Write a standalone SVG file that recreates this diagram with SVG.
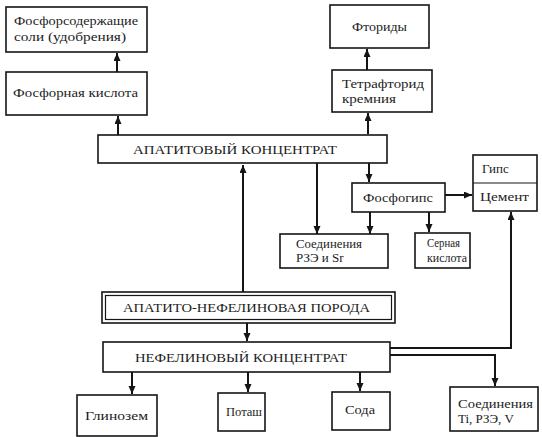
<svg xmlns="http://www.w3.org/2000/svg" width="542" height="437" viewBox="0 0 542 437">
<style>
.box{fill:#fff;stroke:#151515;stroke-width:1.6}
.t{font-family:"Liberation Serif","DejaVu Serif",serif;font-size:13px;fill:#1c1c1c}
.cap{font-family:"Liberation Serif","DejaVu Serif",serif;font-size:12px;fill:#1c1c1c}
.c{stroke:#151515;stroke-width:2;fill:none}
</style>
<defs>
<marker id="ar" markerUnits="userSpaceOnUse" markerWidth="9" markerHeight="8" refX="8" refY="3.5" orient="auto">
<path d="M0,0 L8,3.5 L0,7 z" fill="#151515"/>
</marker>
</defs>
<rect width="542" height="437" fill="#fff"/>

<g id="connectors">
<path class="c" d="M118,135 V116" marker-end="url(#ar)"/>
<path class="c" d="M117,72 V53" marker-end="url(#ar)"/>
<path class="c" d="M368,134 V113" marker-end="url(#ar)"/>
<path class="c" d="M367,70 V49" marker-end="url(#ar)"/>
<path class="c" d="M243,292 V165" marker-end="url(#ar)"/>
<path class="c" d="M247,323 V341" marker-end="url(#ar)"/>
<path class="c" d="M317,163 V234" marker-end="url(#ar)"/>
<path class="c" d="M369,163 V182" marker-end="url(#ar)"/>
<path class="c" d="M370,212 V234" marker-end="url(#ar)"/>
<path class="c" d="M429,212 V232" marker-end="url(#ar)"/>
<path class="c" d="M445,195 H472" stroke-width="3" marker-end="url(#ar)"/>
<path class="c" d="M390,348 H511 V212" marker-end="url(#ar)"/>
<path class="c" d="M390,355 H495 V386" marker-end="url(#ar)"/>
<path class="c" d="M132,372 V394" marker-end="url(#ar)"/>
<path class="c" d="M248,372 V392" marker-end="url(#ar)"/>
<path class="c" d="M360,372 V391" marker-end="url(#ar)"/>
</g>

<g id="fosfor-soli">
<rect class="box" x="6" y="7" width="141" height="45"/>
<text class="t" x="14" y="25" textLength="124" lengthAdjust="spacingAndGlyphs">Фосфорсодержащие</text>
<text class="t" x="14" y="41" textLength="112" lengthAdjust="spacingAndGlyphs">соли (удобрения)</text>
</g>

<g id="fosfor-kislota">
<rect class="box" x="6" y="72" width="141" height="43"/>
<text class="t" x="13" y="97" textLength="125" lengthAdjust="spacingAndGlyphs">Фосфорная кислота</text>
</g>

<g id="ftoridy">
<rect class="box" x="330" y="5" width="99" height="43"/>
<text class="t" x="352" y="31" textLength="55" lengthAdjust="spacingAndGlyphs">Фториды</text>
</g>

<g id="tetraftorid">
<rect class="box" x="332" y="70" width="100" height="42"/>
<text class="t" x="342" y="88" textLength="82" lengthAdjust="spacingAndGlyphs">Тетрафторид</text>
<text class="t" x="342" y="103" textLength="54" lengthAdjust="spacingAndGlyphs">кремния</text>
</g>

<g id="apatit-konc">
<rect class="box" x="98" y="135" width="289" height="28"/>
<text class="cap" x="133" y="154" textLength="204" lengthAdjust="spacingAndGlyphs">АПАТИТОВЫЙ КОНЦЕНТРАТ</text>
</g>

<g id="fosfogips">
<rect class="box" x="352" y="183" width="93" height="29"/>
<text class="t" x="363" y="202" textLength="70" lengthAdjust="spacingAndGlyphs">Фосфогипс</text>
</g>

<g id="gips-cement">
<rect class="box" x="473" y="155" width="64" height="56"/>
<line x1="473" y1="183" x2="537" y2="183" stroke="#151515" stroke-width="1.2"/>
<text class="t" x="482" y="173">Гипс</text>
<text class="t" x="480" y="201" textLength="49" lengthAdjust="spacingAndGlyphs">Цемент</text>
</g>

<g id="soed-rze-sr">
<rect class="box" x="280" y="234" width="108" height="34"/>
<text class="t" x="296" y="248" textLength="66" lengthAdjust="spacingAndGlyphs">Соединения</text>
<text class="t" x="296" y="262">РЗЭ и Sr</text>
</g>

<g id="sernaya">
<rect class="box" x="415" y="233" width="55" height="35"/>
<text class="t" x="427" y="247" textLength="33" lengthAdjust="spacingAndGlyphs">Серная</text>
<text class="t" x="427" y="262" textLength="40" lengthAdjust="spacingAndGlyphs">кислота</text>
</g>

<g id="poroda">
<rect class="box" x="102" y="292" width="293" height="31"/>
<rect x="105.5" y="295.5" width="286" height="24" fill="none" stroke="#151515" stroke-width="1.2"/>
<text class="cap" x="123" y="312" textLength="247" lengthAdjust="spacingAndGlyphs">АПАТИТО-НЕФЕЛИНОВАЯ ПОРОДА</text>
</g>

<g id="nefelin-konc">
<rect class="box" x="103" y="342" width="287" height="30"/>
<text class="cap" x="135" y="362" textLength="212" lengthAdjust="spacingAndGlyphs">НЕФЕЛИНОВЫЙ КОНЦЕНТРАТ</text>
</g>

<g id="glinozem">
<rect class="box" x="77" y="395" width="80" height="41"/>
<text class="t" x="85" y="420" textLength="63" lengthAdjust="spacingAndGlyphs">Глинозем</text>
</g>

<g id="potash">
<rect class="box" x="218" y="393" width="47" height="38"/>
<text class="t" x="226" y="416" textLength="36" lengthAdjust="spacingAndGlyphs">Поташ</text>
</g>

<g id="soda">
<rect class="box" x="332" y="392" width="58" height="38"/>
<text class="t" x="345" y="414" textLength="30" lengthAdjust="spacingAndGlyphs">Сода</text>
</g>

<g id="soed-ti">
<rect class="box" x="450" y="387" width="88" height="44"/>
<text class="t" x="458" y="408" textLength="75" lengthAdjust="spacingAndGlyphs">Соединения</text>
<text class="t" x="458" y="423">Ti, РЗЭ, V</text>
</g>
</svg>
